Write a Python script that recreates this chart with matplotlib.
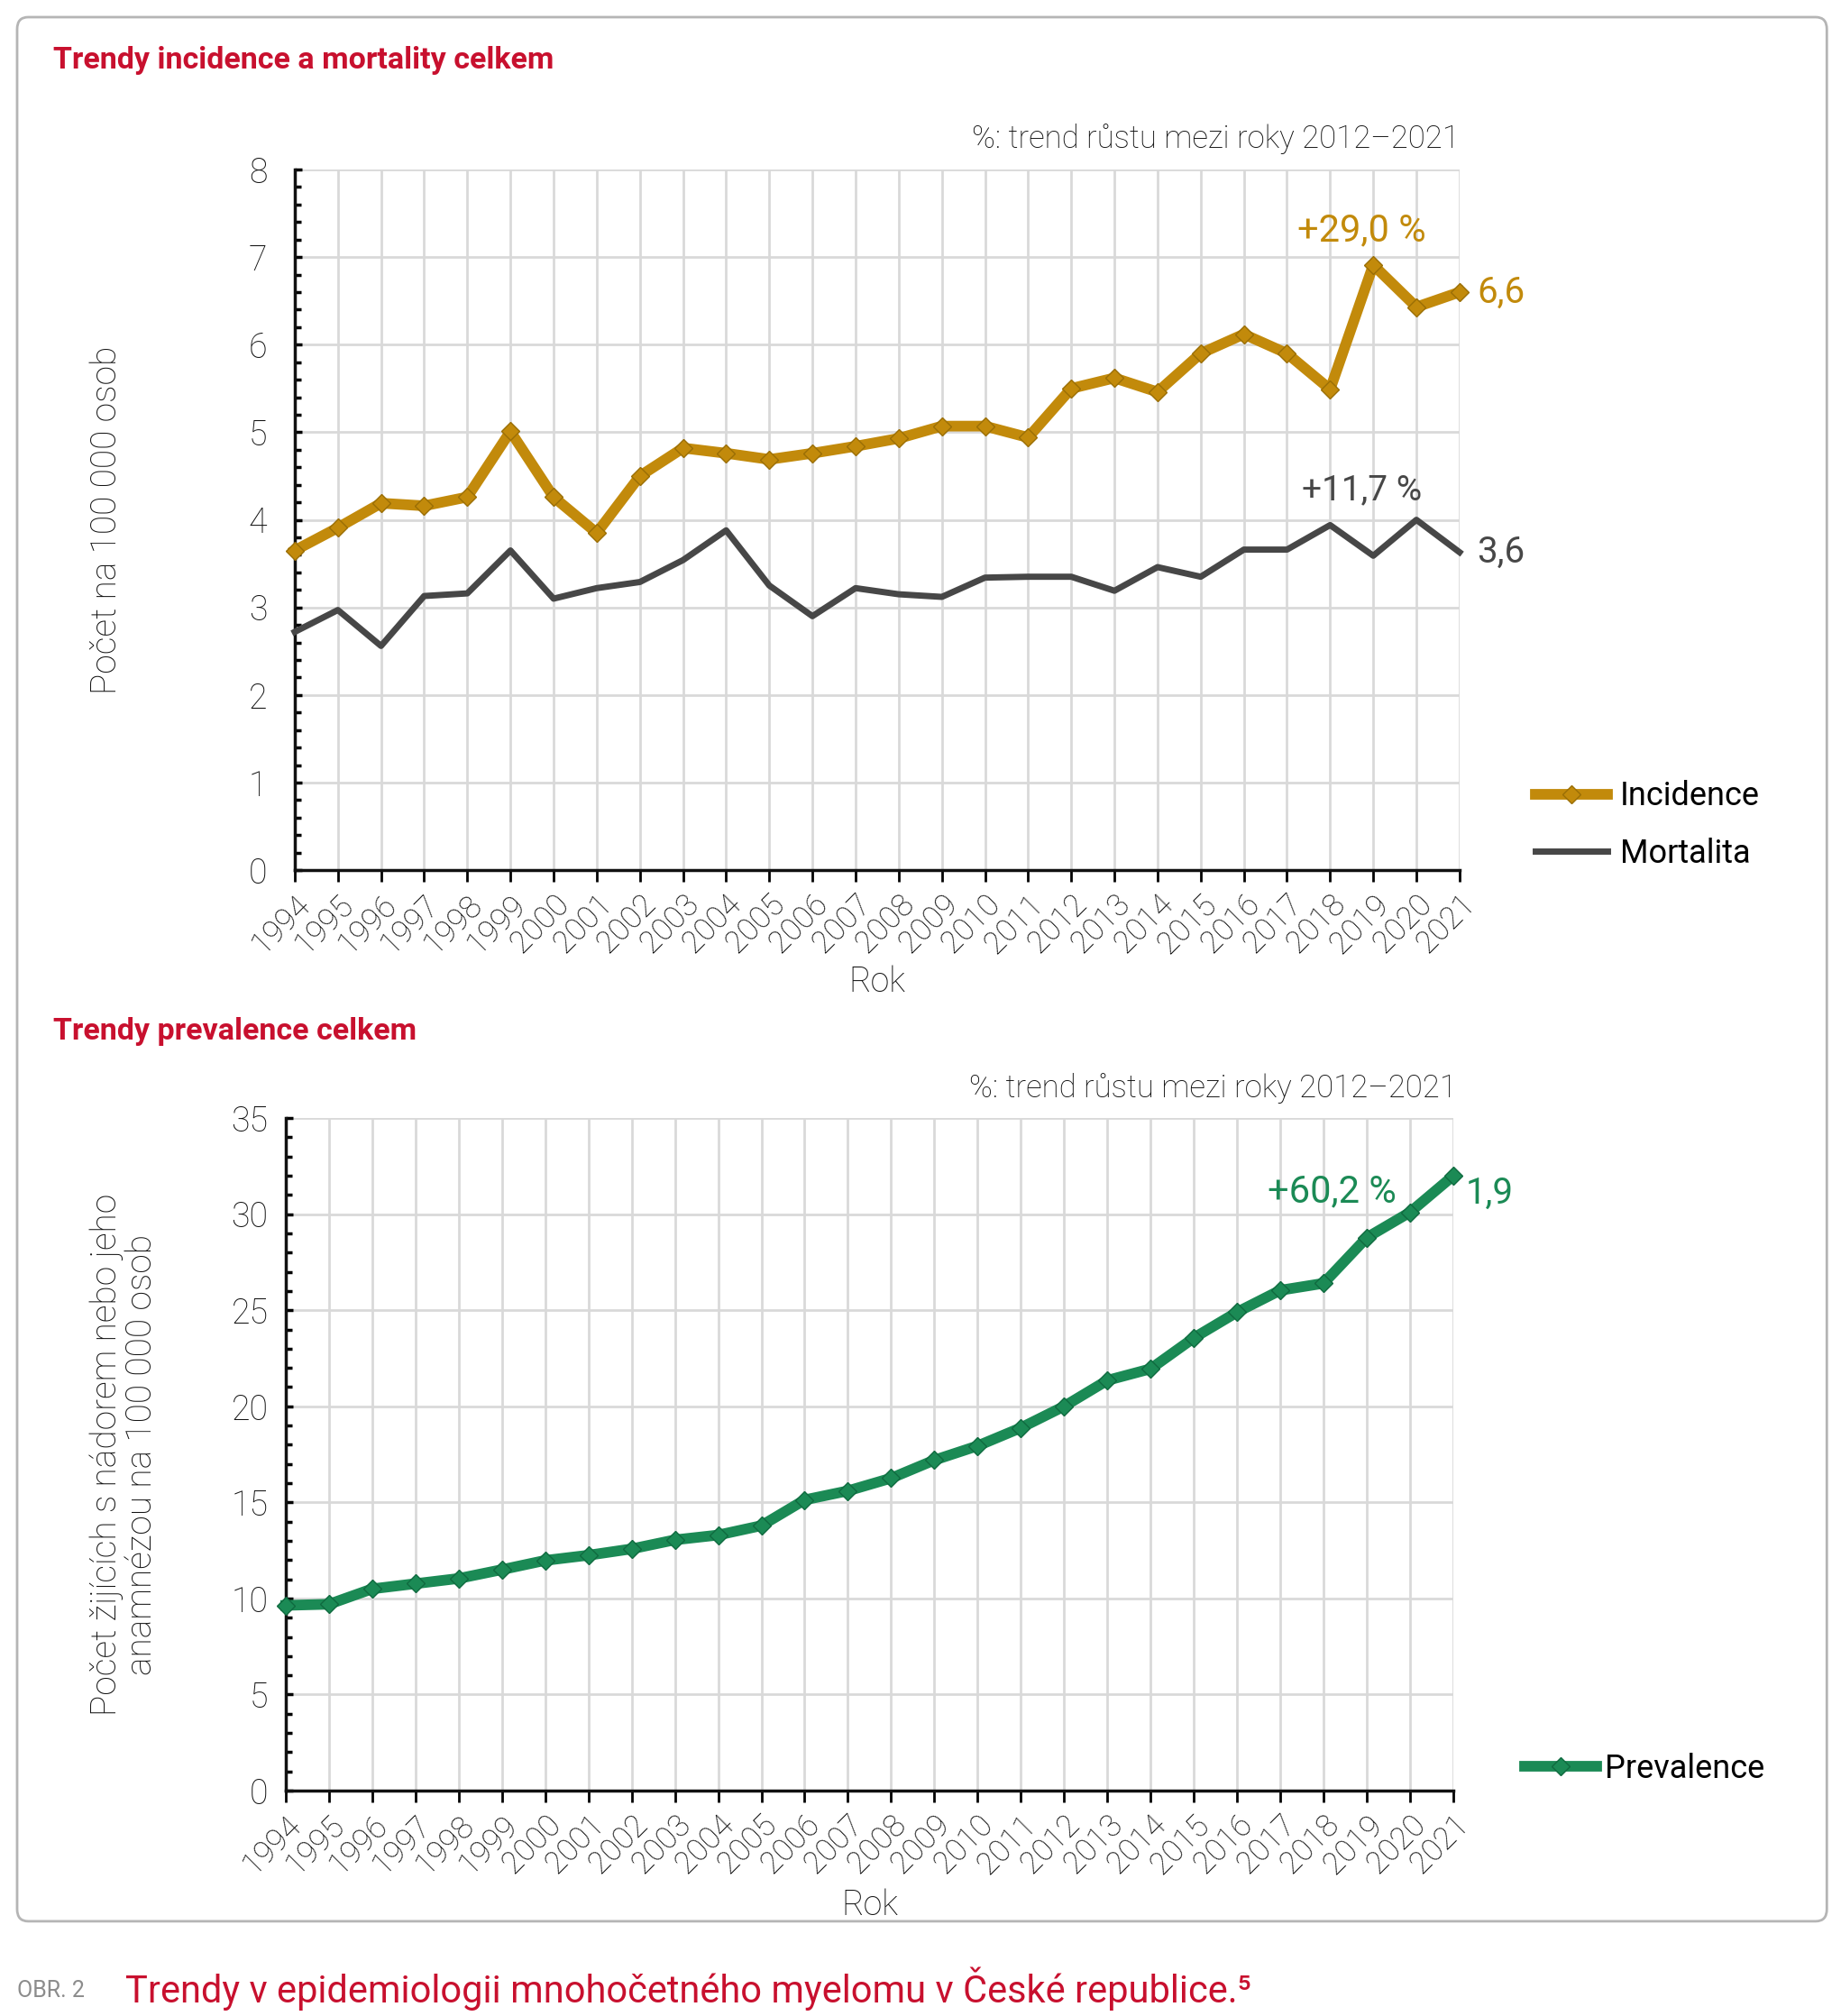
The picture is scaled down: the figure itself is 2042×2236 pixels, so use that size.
import matplotlib
matplotlib.use("Agg")
import matplotlib.pyplot as plt
from matplotlib.patches import FancyBboxPatch
from matplotlib.ticker import MultipleLocator
import numpy as np

plt.rcParams['font.family'] = ['Roboto', 'DejaVu Sans']

years = list(range(1994, 2022))
incidence = [3.65, 3.91, 4.19, 4.16, 4.26, 5.01, 4.26, 3.85, 4.50, 4.82,
             4.76, 4.69, 4.76, 4.84, 4.93, 5.07, 5.07, 4.94, 5.50, 5.62,
             5.46, 5.90, 6.12, 5.90, 5.49, 6.91, 6.43, 6.60]
mortality = [2.72, 2.97, 2.56, 3.13, 3.16, 3.65, 3.10, 3.22, 3.29, 3.54,
             3.88, 3.25, 2.90, 3.22, 3.15, 3.12, 3.34, 3.35, 3.35, 3.19,
             3.46, 3.35, 3.66, 3.66, 3.94, 3.59, 4.00, 3.63]
prevalence = [9.64, 9.70, 10.50, 10.77, 11.04, 11.50, 11.98, 12.25, 12.58, 13.05,
              13.30, 13.79, 15.13, 15.60, 16.26, 17.20, 17.94, 18.88, 20.00, 21.35,
              21.95, 23.56, 24.90, 26.04, 26.40, 28.78, 30.10, 32.00]

trend_note = "%: trend růstu mezi roky 2012–2021"
inc_trend, mort_trend, prev_trend = "+29,0 %", "+11,7 %", "+60,2 %"
inc_last, mort_last, prev_last = "6,6", "3,6", "1,9"

RED = '#C8102E'
GOLD = '#C28A0B'
DARK = '#474747'
GREEN = '#1B8A55'
TXT = '#111111'

fig = plt.figure(figsize=(20.42, 22.36), dpi=100)

frame = FancyBboxPatch((0.0093, 0.047), 0.983, 0.9445, boxstyle="round,pad=0,rounding_size=0.006",
                       transform=fig.transFigure, facecolor='none', edgecolor='#b5b5b5', lw=2,
                       zorder=-1)
fig.patches.append(frame)


def style_axes(ax, ymax, major, minor, ypad):
    ax.set_xlim(1994, 2021)
    ax.set_ylim(0, ymax)
    ax.set_xticks(years)
    ax.set_xticklabels([str(y) for y in years], rotation=45, ha='right',
                       rotation_mode='anchor', fontsize=25, color=TXT, fontweight='light')
    ax.yaxis.set_major_locator(MultipleLocator(major))
    ax.yaxis.set_minor_locator(MultipleLocator(minor))
    ax.tick_params(axis='y', which='major', direction='in', length=6, width=2.5,
                   labelsize=27, labelcolor=TXT, pad=ypad)
    ax.tick_params(axis='y', which='minor', direction='in', length=5, width=2.5)
    ax.tick_params(axis='x', direction='out', length=9, width=2, pad=6)
    for lab in ax.get_yticklabels():
        lab.set_fontweight('light')
    ax.grid(True, which='major', color='#d9d9d9', lw=2)
    for s in ['top', 'right']:
        ax.spines[s].set_visible(False)
    for s in ['left', 'bottom']:
        ax.spines[s].set_linewidth(2.5)
        ax.spines[s].set_color('#111111')
    ax.set_axisbelow(True)
    ax.patch.set_alpha(0)


# ---- top chart
ax1 = fig.add_axes([0.1601, 0.5684, 0.6327, 0.3475])
style_axes(ax1, 8, 1, 0.2, 22)
ax1.plot(years, incidence, color=GOLD, lw=8.5, marker='D', ms=10, mfc=GOLD, mec='#9a6e05',
         label='Incidence', clip_on=False, zorder=4)
ax1.plot(years, mortality, color=DARK, lw=5, label='Mortalita', clip_on=False, zorder=3)
ax1.set_xlabel('Rok', fontsize=27, color=TXT, fontweight='light', labelpad=5)
ax1.set_ylabel('Počet na 100 000 osob', fontsize=28, color=TXT, fontweight='light', labelpad=100)
ax1.text(1.0, 1.022, trend_note, transform=ax1.transAxes, ha='right', va='bottom',
         fontsize=25, color=TXT, fontweight='light')
ax1.text(2018.74, 7.3, inc_trend, ha='center', va='center', fontsize=30, color=GOLD)
ax1.text(2018.74, 4.34, mort_trend, ha='center', va='center', fontsize=28, color=DARK)
ax1.annotate(inc_last, xy=(2021, incidence[-1]), xytext=(14, 0), textcoords='offset points',
             va='center', ha='left', fontsize=29, color=GOLD)
ax1.annotate(mort_last, xy=(2021, mortality[-1]), xytext=(14, 0), textcoords='offset points',
             va='center', ha='left', fontsize=29, color=DARK)
ax1.legend(loc='upper left', bbox_to_anchor=(1.04, 0.17), frameon=False, fontsize=26,
           handlelength=2.2, labelspacing=0.75, handletextpad=0.4)
fig.text(0.029, 0.97, 'Trendy incidence a mortality celkem', fontsize=24.5, fontweight='bold',
         color=RED, va='center', ha='left')

# ---- bottom chart
ax2 = fig.add_axes([0.1552, 0.1118, 0.6342, 0.3336])
style_axes(ax2, 35, 5, 1, 14)
ax2.plot(years, prevalence, color=GREEN, lw=8.5, marker='D', ms=10, mfc=GREEN, mec='#0f6a3f',
         label='Prevalence', clip_on=False, zorder=4)
ax2.set_xlabel('Rok', fontsize=27, color=TXT, fontweight='light', labelpad=7)
ax2.set_ylabel('Počet žijících s nádorem nebo jeho\nanamnézou na 100 000 osob', fontsize=28,
               color=TXT, fontweight='light', labelpad=58, linespacing=1.05)
ax2.text(1.003, 1.022, trend_note, transform=ax2.transAxes, ha='right', va='bottom',
         fontsize=25, color=TXT, fontweight='light')
ax2.text(2018.2, 31.15, prev_trend, ha='center', va='center', fontsize=30, color=GREEN)
ax2.annotate(prev_last, xy=(2021, prevalence[-1]), xytext=(10, -14), textcoords='offset points',
             va='center', ha='left', fontsize=29, color=GREEN)
ax2.legend(loc='upper left', bbox_to_anchor=(1.036, 0.1), frameon=False, fontsize=26,
           handlelength=2.2, handletextpad=0.25)
fig.text(0.029, 0.4885, 'Trendy prevalence celkem', fontsize=24.5, fontweight='bold',
         color=RED, va='center', ha='left')

# ---- caption
fig.text(0.0093, 0.0125, 'OBR. 2', fontsize=18, color='#8c8c8c', va='center', ha='left')
fig.text(0.068, 0.0135, 'Trendy v epidemiologii mnohočetného myelomu v České republice.⁵',
         fontsize=30, color=RED, va='center', ha='left')

fig.savefig('out.png', dpi=100)
